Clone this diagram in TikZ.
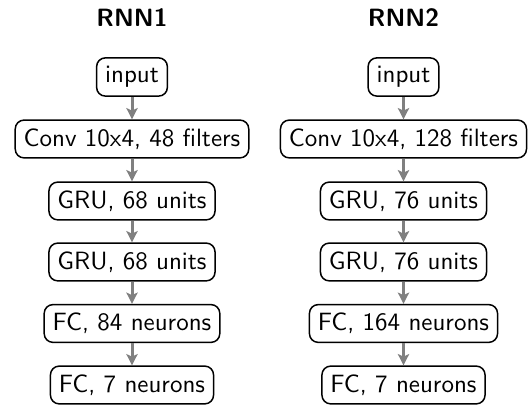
\documentclass[tikz,border=0pt]{standalone}
\usetikzlibrary{arrows.meta}
\begin{document}
\begin{tikzpicture}[x=0.40pt,y=0.40pt,font=\sffamily,>={Stealth[length=4.5pt,width=4.5pt,inset=1pt]},
	layer/.style={draw,semithick,rounded corners=3.5pt,inner sep=3.4pt},
	flow/.style={->,line width=1.2pt,gray}]
	\useasboundingbox (0,0) rectangle (528,405);
	% RNN1
	\node[font=\sffamily\bfseries] (ta) at (132,387) {RNN1};
	\node[layer] (a1) at (132,328) {input};
	\node[layer] (a2) at (132,266) {Conv 10x4, 48 filters};
	\node[layer] (a3) at (132,204) {GRU, 68 units};
	\node[layer] (a4) at (132,143) {GRU, 68 units};
	\node[layer] (a5) at (132,81.5) {FC, 84 neurons};
	\node[layer] (a6) at (132,20) {FC, 7 neurons};
	% RNN2
	\node[font=\sffamily\bfseries] (tb) at (403.5,387) {RNN2};
	\node[layer] (b1) at (403.5,328) {input};
	\node[layer] (b2) at (403.5,266) {Conv 10x4, 128 filters};
	\node[layer] (b3) at (403.5,204) {GRU, 76 units};
	\node[layer] (b4) at (403.5,143) {GRU, 76 units};
	\node[layer] (b5) at (403.5,81.5) {FC, 164 neurons};
	\node[layer] (b6) at (403.5,20) {FC, 7 neurons};
	\foreach \c in {a,b}
	\foreach \i/\j in {1/2,2/3,3/4,4/5,5/6}
	\draw[flow] (\c\i)--(\c\j);
\end{tikzpicture}
\end{document}
